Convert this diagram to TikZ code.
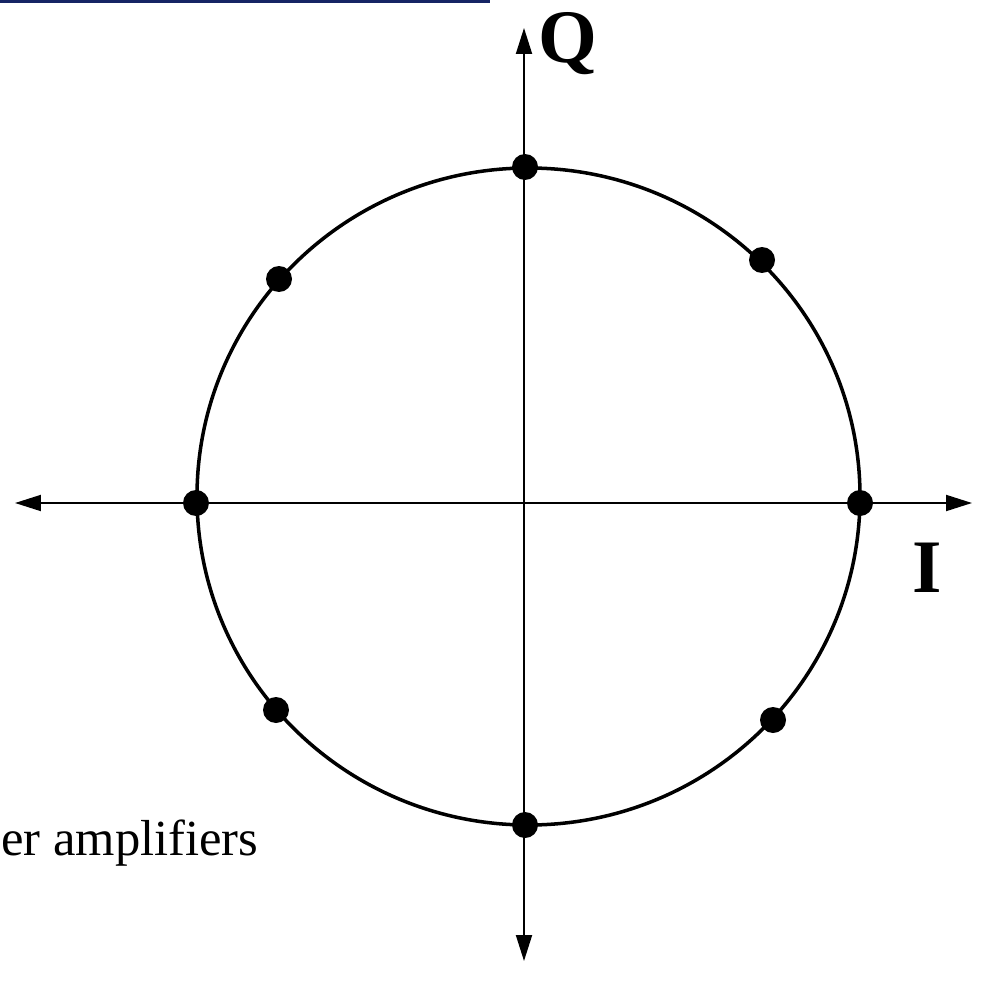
\documentclass[tikz,border=0pt]{standalone}
\usepackage{fontspec}
\setmainfont{Liberation Serif}
\usepackage{xcolor}
\usetikzlibrary{arrows.meta,positioning}
\definecolor{barblue}{RGB}{22,36,100}

\begin{document}
\begin{tikzpicture}[
    x=0.02cm, y=-0.02cm,
    axis/.style={-{Triangle[length=0.52cm, width=0.32cm]}, line width=1.1pt},
    ring/.style={line width=2pt},
    dot/.style={circle, fill=black, inner sep=0pt, minimum size=0.52cm},
    lbl/.style={font=\fontsize{43}{43}\selectfont\bfseries, inner sep=0pt}
]
\useasboundingbox (0,0) rectangle (984,986);
\fill[barblue] (0,0) rectangle (490,3);

\coordinate (o) at (524,503);
\coordinate (west) at (15,503);
\coordinate (east) at (972,503);
\coordinate (north) at (524,28);
\coordinate (south) at (524,961);

\draw[axis] (o) -- (west);
\draw[axis] (o) -- (east);
\draw[axis] (o) -- (north);
\draw[axis] (o) -- (south);

\draw[ring] (528.5,496.5) ellipse [x radius=331.5, y radius=328.5];

\foreach \n/\p in {e/{860,503}, ne/{762,260}, n/{525,167}, nw/{279,279},
                   w/{196,503}, sw/{276,710}, s/{525,825}, se/{773,720}}
  \node[dot] (p\n) at (\p) {};

\node[lbl, anchor=base west] (qlab) at (538,63) {Q};
\node[lbl, anchor=base west] (ilab) at (912,592) {I};
\node[font=\fontsize{28.8}{28.8}\selectfont, anchor=base west, inner sep=0pt] (amp) at (1,855) {er amplifiers};
\end{tikzpicture}
\end{document}
